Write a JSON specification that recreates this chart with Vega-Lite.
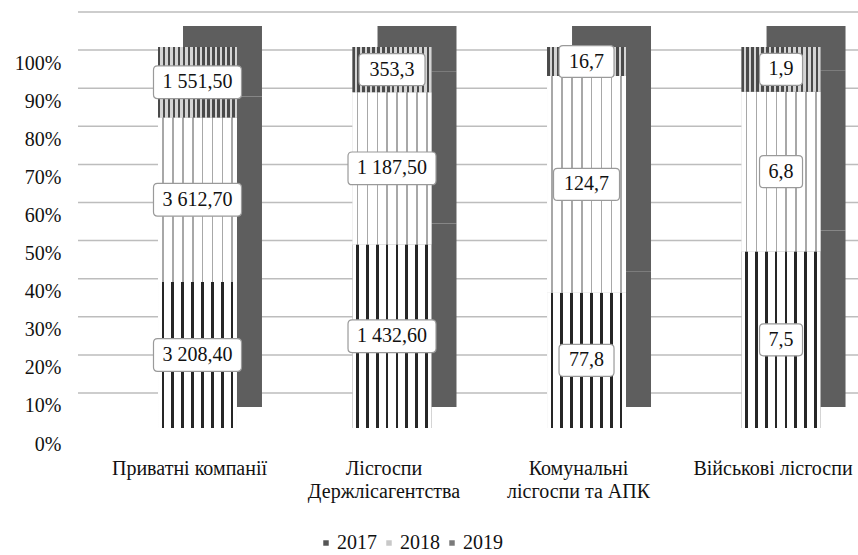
{
  "$schema": "https://vega.github.io/schema/vega-lite/v6.json",
  "width": 780,
  "height": 381,
  "autosize": "none",
  "padding": {"left": 78, "top": 47, "right": 0, "bottom": 127},
  "background": "white",
  "config": {"view": {"stroke": null}, "font": "Liberation Serif", "axisY": {"labelOverlap": false, "labelSeparation": 0, "tickCount": 11}},
  "datasets": {
    "grid": [{"t": 0}, {"t": 0.1}, {"t": 0.2}, {"t": 0.3}, {"t": 0.4}, {"t": 0.5}, {"t": 0.6}, {"t": 0.7}, {"t": 0.8}, {"t": 0.9}, {"t": 1}]
  },
  "data": {
    "values": [
      {"cat": "Приватні компанії", "year": "2017", "value": 3208.4, "label": "3 208,40"},
      {"cat": "Приватні компанії", "year": "2018", "value": 3612.7, "label": "3 612,70"},
      {"cat": "Приватні компанії", "year": "2019", "value": 1551.5, "label": "1 551,50"},
      {"cat": "Лісгоспи\nДержлісагентства", "year": "2017", "value": 1432.6, "label": "1 432,60"},
      {"cat": "Лісгоспи\nДержлісагентства", "year": "2018", "value": 1187.5, "label": "1 187,50"},
      {"cat": "Лісгоспи\nДержлісагентства", "year": "2019", "value": 353.3, "label": "353,3"},
      {"cat": "Комунальні\nлісгоспи та АПК", "year": "2017", "value": 77.8, "label": "77,8"},
      {"cat": "Комунальні\nлісгоспи та АПК", "year": "2018", "value": 124.7, "label": "124,7"},
      {"cat": "Комунальні\nлісгоспи та АПК", "year": "2019", "value": 16.7, "label": "16,7"},
      {"cat": "Військові лісгоспи", "year": "2017", "value": 7.5, "label": "7,5"},
      {"cat": "Військові лісгоспи", "year": "2018", "value": 6.8, "label": "6,8"},
      {"cat": "Військові лісгоспи", "year": "2019", "value": 1.9, "label": "1,9"}
    ]
  },
  "transform": [
    {"stack": "value", "groupby": ["cat"], "sort": [{"field": "year", "order": "ascending"}], "as": ["y0", "y1"], "offset": "normalize"},
    {"calculate": "(datum.y0 + datum.y1) / 2", "as": "mid"},
    {"calculate": "length(datum.label)", "as": "len"}
  ],
  "layer": [
    {
      "data": {"name": "grid"},
      "mark": {"type": "rule", "color": "#bdbdbd", "strokeWidth": 1.5, "yOffset": -35},
      "encoding": {"y": {"field": "t", "type": "quantitative", "scale": {"domain": [0, 1], "nice": false},
        "axis": {"title": null, "values": [0, 0.1, 0.2, 0.3, 0.4, 0.5, 0.6, 0.7, 0.8, 0.9, 1], "tickCount": 11, "format": ".0%", "labelOverlap": false, "grid": false, "domain": false, "ticks": false, "labelFont": "Liberation Serif", "labelFontSize": 20, "labelColor": "#111", "labelPadding": 17, "labelOffset": 16}}}
    },
    {
      "mark": {"type": "bar", "color": "#5e5e5e", "xOffset": 25, "yOffset": -21, "y2Offset": -21},
      "encoding": {
        "x": {"field": "cat", "type": "nominal", "sort": null,
          "scale": {"paddingInner": 0.594, "paddingOuter": 0.302, "align": 0.681},
          "axis": {"title": null, "domain": false, "ticks": false, "labelFont": "Liberation Serif", "labelFontSize": 20, "labelColor": "#111", "labelPadding": 30, "labelLineHeight": 23, "labelExpr": "split(datum.label, '\\n')", "labelAngle": 0, "labelOffset": -8}},
        "y": {"field": "y1", "type": "quantitative"},
        "y2": {"field": "y0"}
      }
    },
    {
      "mark": {"type": "bar"},
      "encoding": {
        "x": {"field": "cat", "type": "nominal", "sort": null},
        "y": {"field": "y1", "type": "quantitative"},
        "y2": {"field": "y0"},
        "color": {
          "field": "year", "type": "nominal",
          "scale": {"domain": ["2017", "2018", "2019"], "range": ["#555555", "#c8c8c8", "#7a7a7a"]},
          "legend": {"title": null, "orient": "none", "legendX": 238, "legendY": 486, "direction": "horizontal", "symbolType": "square", "symbolSize": 30, "symbolStrokeWidth": 0, "labelFont": "Liberation Serif", "labelFontSize": 20, "labelColor": "#111", "columnPadding": 2, "labelOffset": 1, "padding": 0}
        }
      }
    },
    {
      "transform": [{"filter": "datum.year == '2017'"}],
      "mark": {"type": "bar", "color": {"gradient": "linear", "x1": 0, "y1": 0, "x2": 1, "y2": 0, "stops": [
        {"offset": 0, "color": "#ffffff"},
        {"offset": 0.045, "color": "#ffffff"}, {"offset": 0.045, "color": "#262626"}, {"offset": 0.08, "color": "#262626"}, {"offset": 0.08, "color": "#ffffff"},
        {"offset": 0.17, "color": "#ffffff"}, {"offset": 0.17, "color": "#262626"}, {"offset": 0.205, "color": "#262626"}, {"offset": 0.205, "color": "#ffffff"},
        {"offset": 0.295, "color": "#ffffff"}, {"offset": 0.295, "color": "#262626"}, {"offset": 0.33, "color": "#262626"}, {"offset": 0.33, "color": "#ffffff"},
        {"offset": 0.42, "color": "#ffffff"}, {"offset": 0.42, "color": "#262626"}, {"offset": 0.455, "color": "#262626"}, {"offset": 0.455, "color": "#ffffff"},
        {"offset": 0.545, "color": "#ffffff"}, {"offset": 0.545, "color": "#262626"}, {"offset": 0.58, "color": "#262626"}, {"offset": 0.58, "color": "#ffffff"},
        {"offset": 0.67, "color": "#ffffff"}, {"offset": 0.67, "color": "#262626"}, {"offset": 0.705, "color": "#262626"}, {"offset": 0.705, "color": "#ffffff"},
        {"offset": 0.795, "color": "#ffffff"}, {"offset": 0.795, "color": "#262626"}, {"offset": 0.83, "color": "#262626"}, {"offset": 0.83, "color": "#ffffff"},
        {"offset": 0.92, "color": "#ffffff"}, {"offset": 0.92, "color": "#262626"}, {"offset": 0.955, "color": "#262626"}, {"offset": 0.955, "color": "#ffffff"},
        {"offset": 1, "color": "#ffffff"}
      ]}},
      "encoding": {
        "x": {"field": "cat", "type": "nominal", "sort": null},
        "y": {"field": "y1", "type": "quantitative"},
        "y2": {"field": "y0"}
      }
    },
    {
      "transform": [{"filter": "datum.year == '2018'"}],
      "mark": {"type": "bar", "color": {"gradient": "linear", "x1": 0, "y1": 0, "x2": 1, "y2": 0, "stops": [
        {"offset": 0, "color": "#ffffff"},
        {"offset": 0.055, "color": "#ffffff"}, {"offset": 0.055, "color": "#a8a8a8"}, {"offset": 0.075, "color": "#a8a8a8"}, {"offset": 0.075, "color": "#ffffff"},
        {"offset": 0.18, "color": "#ffffff"}, {"offset": 0.18, "color": "#a8a8a8"}, {"offset": 0.2, "color": "#a8a8a8"}, {"offset": 0.2, "color": "#ffffff"},
        {"offset": 0.305, "color": "#ffffff"}, {"offset": 0.305, "color": "#a8a8a8"}, {"offset": 0.325, "color": "#a8a8a8"}, {"offset": 0.325, "color": "#ffffff"},
        {"offset": 0.43, "color": "#ffffff"}, {"offset": 0.43, "color": "#a8a8a8"}, {"offset": 0.45, "color": "#a8a8a8"}, {"offset": 0.45, "color": "#ffffff"},
        {"offset": 0.555, "color": "#ffffff"}, {"offset": 0.555, "color": "#a8a8a8"}, {"offset": 0.575, "color": "#a8a8a8"}, {"offset": 0.575, "color": "#ffffff"},
        {"offset": 0.68, "color": "#ffffff"}, {"offset": 0.68, "color": "#a8a8a8"}, {"offset": 0.7, "color": "#a8a8a8"}, {"offset": 0.7, "color": "#ffffff"},
        {"offset": 0.805, "color": "#ffffff"}, {"offset": 0.805, "color": "#a8a8a8"}, {"offset": 0.825, "color": "#a8a8a8"}, {"offset": 0.825, "color": "#ffffff"},
        {"offset": 0.93, "color": "#ffffff"}, {"offset": 0.93, "color": "#a8a8a8"}, {"offset": 0.95, "color": "#a8a8a8"}, {"offset": 0.95, "color": "#ffffff"},
        {"offset": 1, "color": "#ffffff"}
      ]}},
      "encoding": {
        "x": {"field": "cat", "type": "nominal", "sort": null},
        "y": {"field": "y1", "type": "quantitative"},
        "y2": {"field": "y0"}
      }
    },
    {
      "transform": [{"filter": "datum.year == '2019'"}],
      "mark": {"type": "bar", "color": {"gradient": "linear", "x1": 0, "y1": 0, "x2": 1, "y2": 0, "stops": [
        {"offset": 0, "color": "#4a4a4a"}, {"offset": 0.03125, "color": "#4a4a4a"}, {"offset": 0.03125, "color": "#d4d4d4"}, {"offset": 0.0625, "color": "#d4d4d4"},
        {"offset": 0.0625, "color": "#4a4a4a"}, {"offset": 0.09375, "color": "#4a4a4a"}, {"offset": 0.09375, "color": "#d4d4d4"}, {"offset": 0.125, "color": "#d4d4d4"},
        {"offset": 0.125, "color": "#4a4a4a"}, {"offset": 0.15625, "color": "#4a4a4a"}, {"offset": 0.15625, "color": "#d4d4d4"}, {"offset": 0.1875, "color": "#d4d4d4"},
        {"offset": 0.1875, "color": "#4a4a4a"}, {"offset": 0.21875, "color": "#4a4a4a"}, {"offset": 0.21875, "color": "#d4d4d4"}, {"offset": 0.25, "color": "#d4d4d4"},
        {"offset": 0.25, "color": "#4a4a4a"}, {"offset": 0.28125, "color": "#4a4a4a"}, {"offset": 0.28125, "color": "#d4d4d4"}, {"offset": 0.3125, "color": "#d4d4d4"},
        {"offset": 0.3125, "color": "#4a4a4a"}, {"offset": 0.34375, "color": "#4a4a4a"}, {"offset": 0.34375, "color": "#d4d4d4"}, {"offset": 0.375, "color": "#d4d4d4"},
        {"offset": 0.375, "color": "#4a4a4a"}, {"offset": 0.40625, "color": "#4a4a4a"}, {"offset": 0.40625, "color": "#d4d4d4"}, {"offset": 0.4375, "color": "#d4d4d4"},
        {"offset": 0.4375, "color": "#4a4a4a"}, {"offset": 0.46875, "color": "#4a4a4a"}, {"offset": 0.46875, "color": "#d4d4d4"}, {"offset": 0.5, "color": "#d4d4d4"},
        {"offset": 0.5, "color": "#4a4a4a"}, {"offset": 0.53125, "color": "#4a4a4a"}, {"offset": 0.53125, "color": "#d4d4d4"}, {"offset": 0.5625, "color": "#d4d4d4"},
        {"offset": 0.5625, "color": "#4a4a4a"}, {"offset": 0.59375, "color": "#4a4a4a"}, {"offset": 0.59375, "color": "#d4d4d4"}, {"offset": 0.625, "color": "#d4d4d4"},
        {"offset": 0.625, "color": "#4a4a4a"}, {"offset": 0.65625, "color": "#4a4a4a"}, {"offset": 0.65625, "color": "#d4d4d4"}, {"offset": 0.6875, "color": "#d4d4d4"},
        {"offset": 0.6875, "color": "#4a4a4a"}, {"offset": 0.71875, "color": "#4a4a4a"}, {"offset": 0.71875, "color": "#d4d4d4"}, {"offset": 0.75, "color": "#d4d4d4"},
        {"offset": 0.75, "color": "#4a4a4a"}, {"offset": 0.78125, "color": "#4a4a4a"}, {"offset": 0.78125, "color": "#d4d4d4"}, {"offset": 0.8125, "color": "#d4d4d4"},
        {"offset": 0.8125, "color": "#4a4a4a"}, {"offset": 0.84375, "color": "#4a4a4a"}, {"offset": 0.84375, "color": "#d4d4d4"}, {"offset": 0.875, "color": "#d4d4d4"},
        {"offset": 0.875, "color": "#4a4a4a"}, {"offset": 0.90625, "color": "#4a4a4a"}, {"offset": 0.90625, "color": "#d4d4d4"}, {"offset": 0.9375, "color": "#d4d4d4"},
        {"offset": 0.9375, "color": "#4a4a4a"}, {"offset": 0.96875, "color": "#4a4a4a"}, {"offset": 0.96875, "color": "#d4d4d4"}, {"offset": 1, "color": "#d4d4d4"}
      ]}},
      "encoding": {
        "x": {"field": "cat", "type": "nominal", "sort": null},
        "y": {"field": "y1", "type": "quantitative"},
        "y2": {"field": "y0"}
      }
    },
    {
      "mark": {"type": "point", "filled": true, "fill": "white", "stroke": "#9a9a9a", "strokeWidth": 1.2, "opacity": 1},
      "encoding": {
        "x": {"field": "cat", "type": "nominal", "sort": null},
        "y": {"field": "mid", "type": "quantitative"},
        "shape": {"field": "len", "type": "nominal", "legend": null, "scale": {"domain": [3, 4, 5, 8], "range": [
          "M-0.814,-0.744H0.814Q1,-0.744 1,-0.558V0.558Q1,0.744 0.814,0.744H-0.814Q-1,0.744 -1,0.558V-0.558Q-1,-0.744 -0.814,-0.744Z",
          "M-0.855,-0.58H0.855Q1,-0.58 1,-0.435V0.435Q1,0.58 0.855,0.58H-0.855Q-1,0.58 -1,0.435V-0.435Q-1,-0.58 -0.855,-0.58Z",
          "M-0.88,-0.485H0.88Q1,-0.485 1,-0.365V0.365Q1,0.485 0.88,0.485H-0.88Q-1,0.485 -1,0.365V-0.365Q-1,-0.485 -0.88,-0.485Z",
          "M-0.907,-0.372H0.907Q1,-0.372 1,-0.279V0.279Q1,0.372 0.907,0.372H-0.907Q-1,0.372 -1,0.279V-0.279Q-1,-0.372 -0.907,-0.372Z"
        ]}},
        "size": {"field": "len", "type": "quantitative", "legend": null, "scale": {"type": "threshold", "domain": [4, 5, 6], "range": [1849, 3025, 4356, 7744]}}
      }
    },
    {
      "mark": {"type": "text", "font": "Liberation Serif", "fontSize": 20, "color": "#111"},
      "encoding": {
        "x": {"field": "cat", "type": "nominal", "sort": null},
        "y": {"field": "mid", "type": "quantitative"},
        "text": {"field": "label"}
      }
    }
  ]
}
